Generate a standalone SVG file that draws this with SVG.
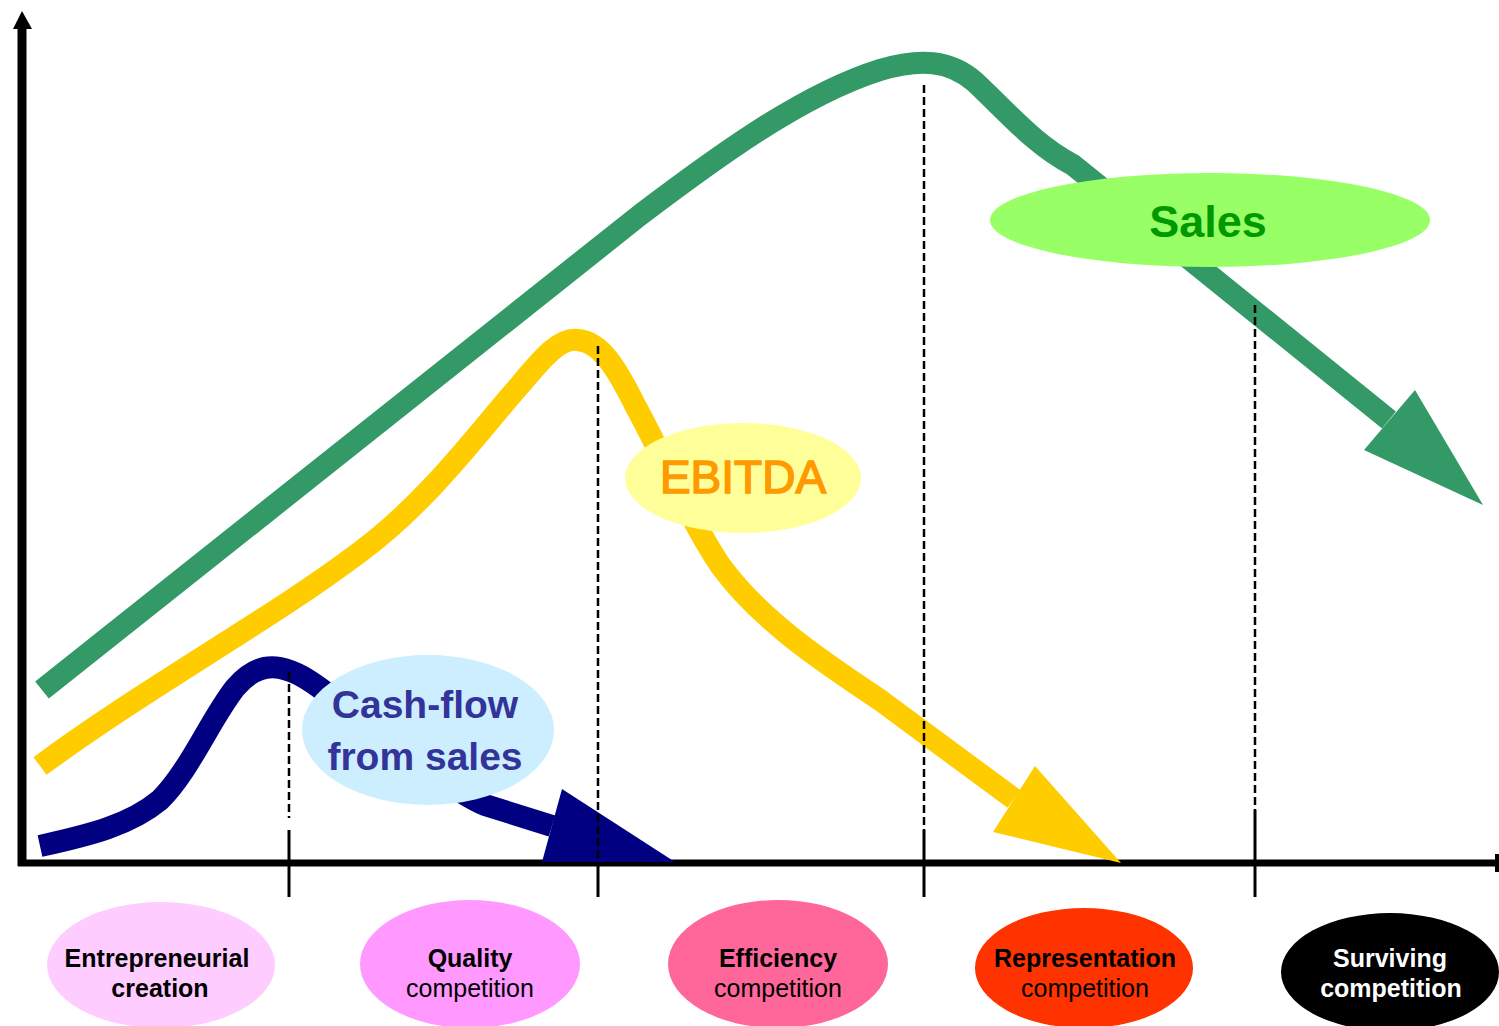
<svg xmlns="http://www.w3.org/2000/svg" width="1499" height="1026" viewBox="0 0 1499 1026">
<style>
.curve{fill:none;stroke-width:22;stroke-linejoin:round;stroke-linecap:butt}
.dash{stroke:#000;stroke-width:2.5;stroke-dasharray:8 4;fill:none}
.tick{stroke:#000;stroke-width:3}
.lbl{font-family:"Liberation Sans",Arial,sans-serif;text-anchor:middle}
.st{font-family:"Liberation Sans",Arial,sans-serif;text-anchor:middle;font-size:25px}
.b{font-weight:bold}
</style>
<rect width="1499" height="1026" fill="#fff"/>
<g id="axes">
<line x1="22" y1="27" x2="22" y2="866" stroke="#000" stroke-width="9"/>
<polygon points="22,11 32,29 13,29" fill="#000"/>
<line x1="18" y1="863" x2="1497" y2="863" stroke="#000" stroke-width="7"/>
<rect x="1495" y="854" width="4" height="18" fill="#000"/>
</g>
<g id="connectors">
<g id="sales-curve">
<path class="curve" stroke="#339966" d="M42,690 L640,215 C710,162 800,95 880,70 C920,58 950,60 975,82 C1010,115 1035,145 1073,165 L1389,420"/>
<polygon points="1415,390 1483,505 1364,450" fill="#339966"/>
</g>
<g id="ebitda-curve">
<path class="curve" stroke="#FFCC00" d="M40,766 C150,685 270,620 360,552 C430,500 480,430 520,385 C545,355 560,338 578,340 C600,342 615,365 635,405 C670,470 690,520 720,565 C760,620 820,660 880,700 L1014,799"/>
<polygon points="1035,766 1121,863 993,832" fill="#FFCC00"/>
</g>
<g id="cashflow-curve">
<path class="curve" stroke="#000080" d="M40,846 C90,835 130,825 160,800 C190,770 210,720 235,688 C250,670 265,665 280,668 C300,672 315,685 330,695 C380,730 440,785 485,805 L552,826"/>
<polygon points="562,789 675,862 542,862" fill="#000080"/>
</g>
</g>
<g id="guides">
<line class="dash" x1="289" y1="672" x2="289" y2="818"/>
<line class="tick" x1="289" y1="830" x2="289" y2="897"/>
<line class="dash" x1="598" y1="346" x2="598" y2="862"/>
<line class="tick" x1="598" y1="862" x2="598" y2="897"/>
<line class="dash" x1="924" y1="85" x2="924" y2="830"/>
<line class="tick" x1="924" y1="830" x2="924" y2="897"/>
<line class="dash" x1="1255" y1="305" x2="1255" y2="810"/>
<line class="tick" x1="1255" y1="810" x2="1255" y2="897"/>
</g>
<g id="sales-label">
<ellipse cx="1210" cy="220" rx="220" ry="47" fill="#99FF66"/>
<text class="lbl b" x="1208" y="237" font-size="45" fill="#009900">Sales</text>
</g>
<g id="ebitda-label">
<ellipse cx="743" cy="478" rx="118" ry="55" fill="#FFFF99"/>
<text class="lbl" x="743" y="493" font-size="46" fill="#FF9900" stroke="#FF9900" stroke-width="1.5">EBITDA</text>
</g>
<g id="cashflow-label">
<ellipse cx="428" cy="730" rx="126" ry="75" fill="#CCEEFF"/>
<text class="lbl b" x="425" y="718" font-size="39" fill="#333399">Cash-flow</text>
<text class="lbl b" x="425" y="770" font-size="39" fill="#333399">from sales</text>
</g>
<g id="stage-entrepreneurial">
<ellipse cx="161" cy="965" rx="114" ry="63" fill="#FFCCFF"/>
<text class="st b" x="157" y="967">Entrepreneurial</text>
<text class="st b" x="160" y="997">creation</text>
</g>
<g id="stage-quality">
<ellipse cx="470" cy="964" rx="110" ry="64" fill="#FF99FF"/>
<text class="st b" x="470" y="967">Quality</text>
<text class="st" x="470" y="997">competition</text>
</g>
<g id="stage-efficiency">
<ellipse cx="778" cy="964" rx="110" ry="64" fill="#FF6699"/>
<text class="st b" x="778" y="967">Efficiency</text>
<text class="st" x="778" y="997">competition</text>
</g>
<g id="stage-representation">
<ellipse cx="1084" cy="968" rx="109" ry="60" fill="#FF3300"/>
<text class="st b" x="1085" y="967">Representation</text>
<text class="st" x="1085" y="997">competition</text>
</g>
<g id="stage-surviving">
<ellipse cx="1390" cy="972" rx="109" ry="59" fill="#000000"/>
<text class="st b" x="1390" y="967" fill="#fff">Surviving</text>
<text class="st b" x="1391" y="997" fill="#fff">competition</text>
</g>
</svg>
